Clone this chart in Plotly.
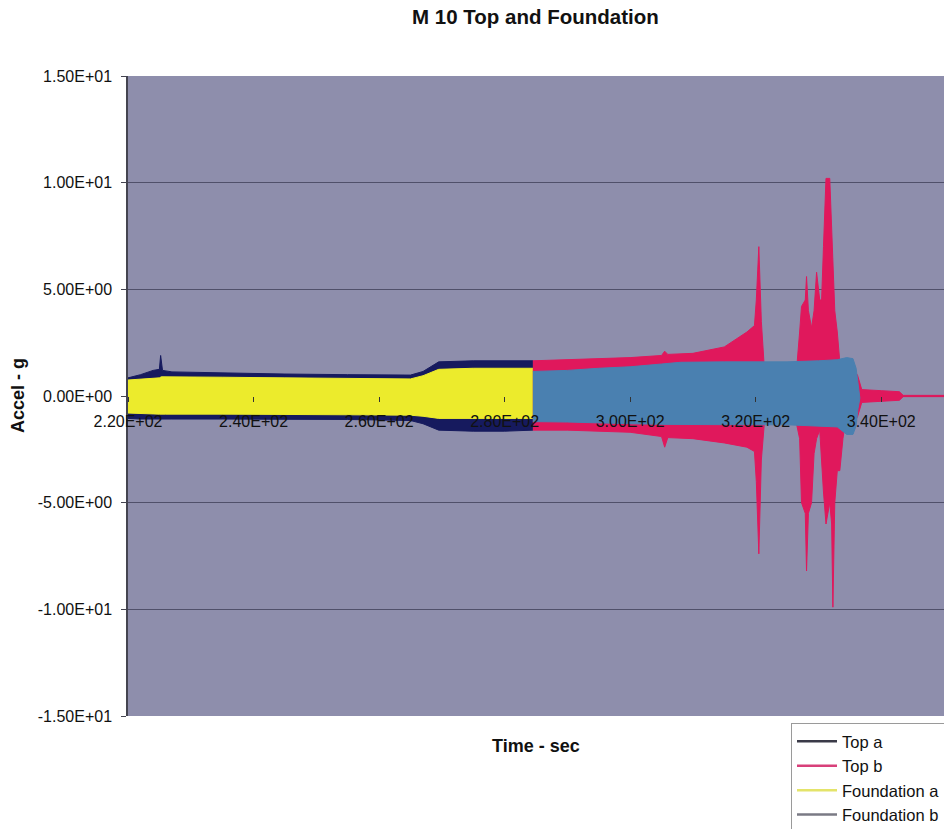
import plotly.graph_objects as go

# ---------------- data (envelopes of the dense acceleration records) ----------------
top_a_t = [220, 222, 224, 225.0, 225.2, 225.5, 227, 235, 245, 255, 265, 267, 269.5, 275, 280, 284.5]
top_a_up = [0.85, 1.0, 1.2, 1.25, 1.9, 1.2, 1.13, 1.08, 1.03, 1.0, 0.98, 1.15, 1.6, 1.65, 1.65, 1.65]
top_a_lo = [-1.05, -1.08, -1.1, -1.1, -1.1, -1.08, -1.08, -1.08, -1.08, -1.1, -1.15, -1.3, -1.6, -1.65, -1.65, -1.6]

found_a_t = [220, 225, 225.3, 226, 235, 245, 255, 265, 267, 269.5, 275, 284.5]
found_a_up = [0.75, 0.85, 0.9, 0.9, 0.88, 0.85, 0.82, 0.8, 0.95, 1.25, 1.3, 1.3]
found_a_lo = [-0.8, -0.85, -0.85, -0.85, -0.85, -0.85, -0.88, -0.9, -0.95, -1.05, -1.05, -1.05]

top_b_t = [284.5, 290, 295, 300, 305, 305.5, 306, 310, 315, 318.6, 319.8, 320.1, 320.5, 320.9,
           321.4, 326.5, 327.0, 327.3, 327.9, 328.1, 328.4, 328.9, 329.3, 329.7, 330.2, 330.5,
           330.8, 331.2, 331.8, 332.1, 332.3, 332.6, 333.0, 333.4, 333.9, 334.3, 336.2, 336.9,
           340, 342.9, 343.5, 350]
top_b_up = [1.65, 1.7, 1.75, 1.8, 1.9, 2.1, 1.95, 2.0, 2.3, 3.0, 3.3, 4.5, 7.0, 3.5,
            1.2, 1.2, 3.0, 4.2, 4.5, 5.6, 4.0, 3.2, 4.0, 5.8, 4.5, 4.5,
            7.0, 10.2, 10.2, 8.0, 6.5, 4.0, 3.0, 1.6, 1.3, 1.2, 1.0, 0.3,
            0.25, 0.2, 0.03, 0.03]
top_b_lo = [-1.6, -1.6, -1.65, -1.7, -1.9, -2.4, -1.95, -2.0, -2.2, -2.4, -2.6, -4.0, -7.4, -3.0,
            -1.2, -1.3, -2.0, -5.0, -5.5, -8.2, -5.5, -5.0, -2.7, -2.0, -1.6, -3.0,
            -4.5, -6.0, -5.0, -6.0, -9.9, -5.0, -3.5, -3.5, -2.0, -1.2, -1.0, -0.3,
            -0.25, -0.2, -0.03, -0.03]

found_b_t = [284.5, 290, 295, 300, 305, 308, 315, 320, 325, 330, 333, 334.5, 335.5, 336.0, 336.3, 336.6]
found_b_up = [1.15, 1.2, 1.3, 1.37, 1.5, 1.58, 1.6, 1.6, 1.6, 1.65, 1.7, 1.8, 1.75, 1.3, 0.6, 0.1]
found_b_lo = [-1.2, -1.22, -1.25, -1.3, -1.33, -1.35, -1.35, -1.35, -1.35, -1.4, -1.45, -1.8, -1.8, -1.4, -0.6, -0.1]

series_names = ["Top a", "Top b", "Foundation a", "Foundation b"]

y_tick_vals = [15, 10, 5, 0, -5, -10, -15]
y_tick_text = ["1.50E+01", "1.00E+01", "5.00E+00", "0.00E+00", "-5.00E+00", "-1.00E+01", "-1.50E+01"]
x_tick_vals = [220, 240, 260, 280, 300, 320, 340]
x_tick_text = ["2.20E+02", "2.40E+02", "2.60E+02", "2.80E+02", "3.00E+02", "3.20E+02", "3.40E+02"]

# ---------------- styles ----------------
fill_colors = {"Top a": "#161a5e", "Top b": "#e0185c", "Foundation a": "#eceb2c", "Foundation b": "#4a80b0"}
legend_colors = {"Top a": "#3a3a48", "Top b": "#d8407a", "Foundation a": "#e4e46a", "Foundation b": "#7a7a84"}
FONT = "Liberation Sans, Arial, sans-serif"

fig = go.Figure()


def envelope(name, t, up, lo):
    fig.add_trace(go.Scatter(
        x=list(t) + list(t)[::-1],
        y=list(up) + list(lo)[::-1],
        fill="toself", fillcolor=fill_colors[name],
        line=dict(color=fill_colors[name], width=1),
        mode="lines", showlegend=False, hoverinfo="skip"))


envelope("Top a", top_a_t, top_a_up, top_a_lo)
envelope("Foundation a", found_a_t, found_a_up, found_a_lo)
envelope("Top b", top_b_t, top_b_up, top_b_lo)
envelope("Foundation b", found_b_t, found_b_up, found_b_lo)

for n in series_names:
    fig.add_trace(go.Scatter(x=[None], y=[None], mode="lines", name=n,
                             line=dict(color=legend_colors[n], width=2.5)))

fig.update_layout(
    width=944, height=829,
    margin=dict(l=128, r=0, t=76, b=113, autoexpand=False),
    paper_bgcolor="white", plot_bgcolor="#8e8eac",
    font=dict(family=FONT, color="#111111", size=16),
    showlegend=True,
    legend=dict(x=(791 - 128) / 816, y=-(723 - 716) / 640, xanchor="left", yanchor="top",
                bgcolor="white", bordercolor="#9a9a9a", borderwidth=1,
                font=dict(size=16.5, family=FONT, color="#111111"),
                tracegroupgap=0, itemwidth=40),
    annotations=[
        dict(text="<b>M 10 Top and Foundation</b>", x=(535 - 128) / 816, y=1 + (76 - 17) / 640,
             xref="paper", yref="paper", xanchor="center", yanchor="middle",
             showarrow=False, font=dict(size=20.5, family=FONT)),
        dict(text="<b>Time - sec</b>", x=(536 - 128) / 816, y=-(746 - 716) / 640, xref="paper", yref="paper",
             xanchor="center", yanchor="middle", showarrow=False, font=dict(size=18, family=FONT)),
        dict(text="<b>Accel - g</b>", x=-(128 - 18) / 816, y=0.5, xref="paper", yref="paper", textangle=-90,
             xanchor="center", yanchor="middle", showarrow=False, font=dict(size=18, family=FONT)),
    ],
)

fig.update_xaxes(range=[220, 350], tickvals=x_tick_vals, ticktext=x_tick_text,
                 anchor="free", position=0.5, showgrid=False, zeroline=False, showline=False,
                 ticks="outside", ticklen=5, tickcolor="#333333",
                 ticklabelstandoff=6,
                 tickfont=dict(size=16, family=FONT, color="#111111"))
fig.update_yaxes(range=[-15, 15], tickvals=y_tick_vals, ticktext=y_tick_text,
                 showgrid=True, gridcolor="#50506a", gridwidth=1, zeroline=False,
                 showline=True, linecolor="#444450", linewidth=1.5,
                 ticks="outside", ticklen=5, tickcolor="#444450",
                 ticklabelstandoff=6,
                 tickfont=dict(size=16, family=FONT, color="#111111"))

fig.write_html("out.html")
